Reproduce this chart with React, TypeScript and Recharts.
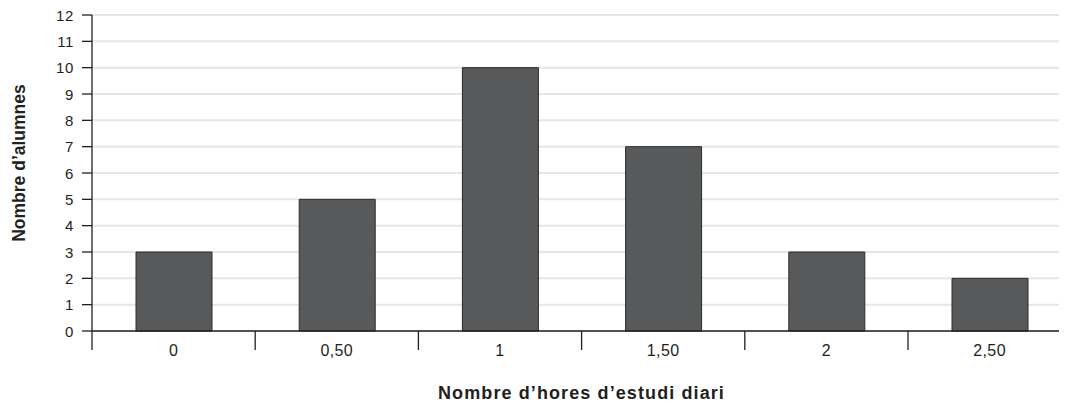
import { BarChart, Bar, XAxis, YAxis, CartesianGrid } from 'recharts';

const hours = ['0', '0,50', '1', '1,50', '2', '2,50'];
const students = [3, 5, 10, 7, 3, 2];
const yTicks = [0, 1, 2, 3, 4, 5, 6, 7, 8, 9, 10, 11, 12];

const data = hours.map((h, i) => ({ hours: h, students: students[i] }));

const INK = '#231f20';
const FONT = '"Liberation Sans", Arial, Helvetica, sans-serif';
const PLOT_LEFT = 92;
const PLOT_RIGHT = 1071.2;
const AXIS_Y = 331;
const BAND = (PLOT_RIGHT - PLOT_LEFT) / hours.length;

// category label in the middle, tick mark on the left edge of each band
const HourTick = ({ x, index }: any) => {
  const edge = x - BAND / 2;
  return (
    <g>
      <line x1={edge} y1={AXIS_Y} x2={edge} y2={AXIS_Y + 19} stroke={INK} strokeWidth={1.3} />
      {index === hours.length - 1 && (
        <line x1={edge + BAND} y1={AXIS_Y} x2={edge + BAND} y2={AXIS_Y + 19} stroke={INK} strokeWidth={1.3} />
      )}
      <text x={x} y={AXIS_Y + 25} textAnchor="middle" fontSize={16} letterSpacing={0.4} fill={INK} fontFamily={FONT}>
        {hours[index]}
      </text>
    </g>
  );
};

const CountTick = ({ x, y, payload }: any) => (
  <text x={x} y={y + 5.5} textAnchor="end" fontSize={15} letterSpacing={0.6} fill={INK} fontFamily={FONT}>
    {payload.value}
  </text>
);

const XTitle = () => (
  <text x={581.5} y={399} textAnchor="middle" fontSize={18} fontWeight="bold" letterSpacing={1.1} fill={INK} fontFamily={FONT}>
    Nombre d’hores d’estudi diari
  </text>
);

const YTitle = () => (
  <text
    x={25}
    y={163}
    transform="rotate(-90, 25, 163)"
    textAnchor="middle"
    fontSize={17.5}
    fontWeight="bold"
    fill={INK}
    fontFamily={FONT}
  >
    Nombre d’alumnes
  </text>
);

export default function App() {
  return (
    <div style={{ margin: '-8px 0 0 -8px', width: 1067, height: 405, overflow: 'hidden', background: '#fff', fontFamily: FONT }}>
      <BarChart width={1080} height={405} data={data} margin={{ top: 15, right: 8.8, left: 0, bottom: 0 }}>
        <CartesianGrid vertical={false} stroke="#e6e6e6" strokeWidth={2} />
        <YAxis
          width={92}
          domain={[0, 12]}
          ticks={yTicks}
          interval={0}
          tickSize={10}
          tickMargin={8}
          axisLine={{ stroke: INK, strokeWidth: 1.3 }}
          tickLine={{ stroke: INK, strokeWidth: 1.3 }}
          tick={<CountTick />}
          label={<YTitle />}
        />
        <XAxis
          dataKey="hours"
          height={74}
          interval={0}
          tickLine={false}
          axisLine={{ stroke: INK, strokeWidth: 1.3 }}
          tick={<HourTick />}
          label={<XTitle />}
        />
        <Bar dataKey="students" barSize={76} fill="#58595b" stroke="#2b2b2b" strokeWidth={1} isAnimationActive={false} />
      </BarChart>
    </div>
  );
}
